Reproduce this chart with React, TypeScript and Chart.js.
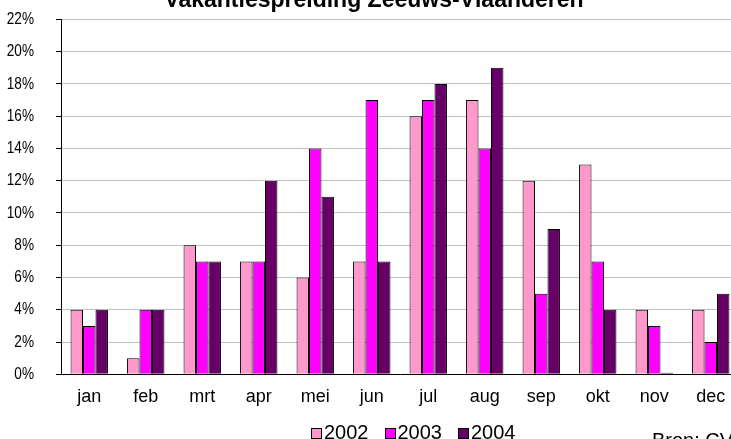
import React, { useEffect, useRef } from "react";
import { Chart, registerables } from "chart.js";

Chart.register(...registerables);

const months = ["jan", "feb", "mrt", "apr", "mei", "jun", "jul", "aug", "sep", "okt", "nov", "dec"];
const seriesNames = ["2002", "2003", "2004"];
const v2002 = [4, 1, 8, 7, 6, 7, 16, 17, 12, 13, 4, 4];
const v2003 = [3, 4, 7, 7, 14, 17, 17, 14, 5, 7, 3, 2];
const v2004 = [4, 4, 7, 12, 11, 7, 18, 19, 9, 4, 0.1, 5];
const yMin = 0;
const yMax = 22;
const yStep = 2;
const titleText = "Vakantiespreiding Zeeuws-Vlaanderen";
const sourceText = "Bron: CVS";

const colors = ["#FF99CC", "#FF00FF", "#660066"];

// Draws the y tick labels (from the y scale's own ticks) in a condensed style
const yLabelPlugin = {
  id: "condensedYLabels",
  afterDraw(chart: any) {
    const s = chart.scales.y;
    const ctx = chart.ctx;
    ctx.save();
    ctx.fillStyle = "#000000";
    ctx.font = "17px Arial, 'Liberation Sans', sans-serif";
    ctx.textAlign = "right";
    ctx.textBaseline = "middle";
    s.ticks.forEach((t: any) => {
      const y = s.getPixelForValue(t.value);
      ctx.save();
      ctx.translate(s.right - 5 - 22, y);
      ctx.scale(0.8, 1);
      ctx.fillText(t.value + "%", 0, 0);
      ctx.restore();
    });
    ctx.restore();
  },
};

export default function App() {
  const ref = useRef<HTMLCanvasElement | null>(null);

  useEffect(() => {
    if (!ref.current) return;
    const values = [v2002, v2003, v2004];
    const chart = new Chart(ref.current, {
      type: "bar",
      data: {
        labels: months,
        datasets: seriesNames.map((name, i) => ({
          label: name,
          data: values[i],
          backgroundColor: colors[i],
          borderColor: "#000000",
          borderWidth: 1,
          categoryPercentage: 0.662,
          barPercentage: 1,
        })),
      },
      options: {
        animation: false,
        responsive: false,
        devicePixelRatio: 1,
        layout: { padding: { top: 19.4, right: 6, bottom: 0, left: 0 } },
        plugins: {
          legend: { display: false },
          title: { display: false },
          tooltip: { enabled: false },
        },
        scales: {
          x: {
            grid: { display: false, drawTicks: false },
            border: { color: "#000000", width: 1 },
            ticks: {
              color: "#000000",
              font: { family: "Arial, 'Liberation Sans', sans-serif", size: 18 },
              padding: 12,
              maxRotation: 0,
              autoSkip: false,
            },
            afterFit: (s: any) => {
              s.height = 64.7;
            },
          },
          y: {
            min: yMin,
            max: yMax,
            ticks: {
              stepSize: yStep,
              display: false,
            },
            grid: { color: "#c0c0c0", tickColor: "#000000", tickLength: 5, lineWidth: 1 },
            border: { color: "#000000", width: 1 },
            afterFit: (s: any) => {
              s.width = 61;
              s.paddingTop = 0;
              s.paddingBottom = 0;
            },
          },
        },
      },
      plugins: [yLabelPlugin],
    });
    return () => chart.destroy();
  }, []);

  return (
    <div
      style={{
        position: "fixed",
        left: 0,
        top: 0,
        width: 745,
        height: 439,
        background: "#ffffff",
        fontFamily: "Arial, 'Liberation Sans', sans-serif",
      }}
    >
      <canvas ref={ref} width={745} height={439} style={{ position: "absolute", left: 0, top: 0 }} />
      <div
        style={{
          position: "absolute",
          left: 0,
          width: 748,
          top: -12.5,
          textAlign: "center",
          fontSize: 23,
          lineHeight: "23px",
          fontWeight: "bold",
          whiteSpace: "nowrap",
          color: "#000",
        }}
      >
        {titleText}
      </div>
      <div
        style={{
          position: "absolute",
          left: 311,
          top: 421.5,
          display: "flex",
          alignItems: "center",
          fontSize: 20,
          lineHeight: "20px",
          color: "#000",
          whiteSpace: "nowrap",
        }}
      >
        {seriesNames.map((name, i) => (
          <div key={name} style={{ display: "flex", alignItems: "center", marginRight: 16 }}>
            <span
              style={{
                display: "inline-block",
                width: 9,
                height: 9,
                border: "1px solid #000",
                background: colors[i],
                marginRight: 2,
                marginTop: 3,
              }}
            />
            <span>{name}</span>
          </div>
        ))}
      </div>
      <div
        style={{
          position: "absolute",
          left: 652,
          top: 430,
          fontSize: 20,
          lineHeight: "20px",
          whiteSpace: "nowrap",
          color: "#000",
        }}
      >
        {sourceText}
      </div>
    </div>
  );
}
